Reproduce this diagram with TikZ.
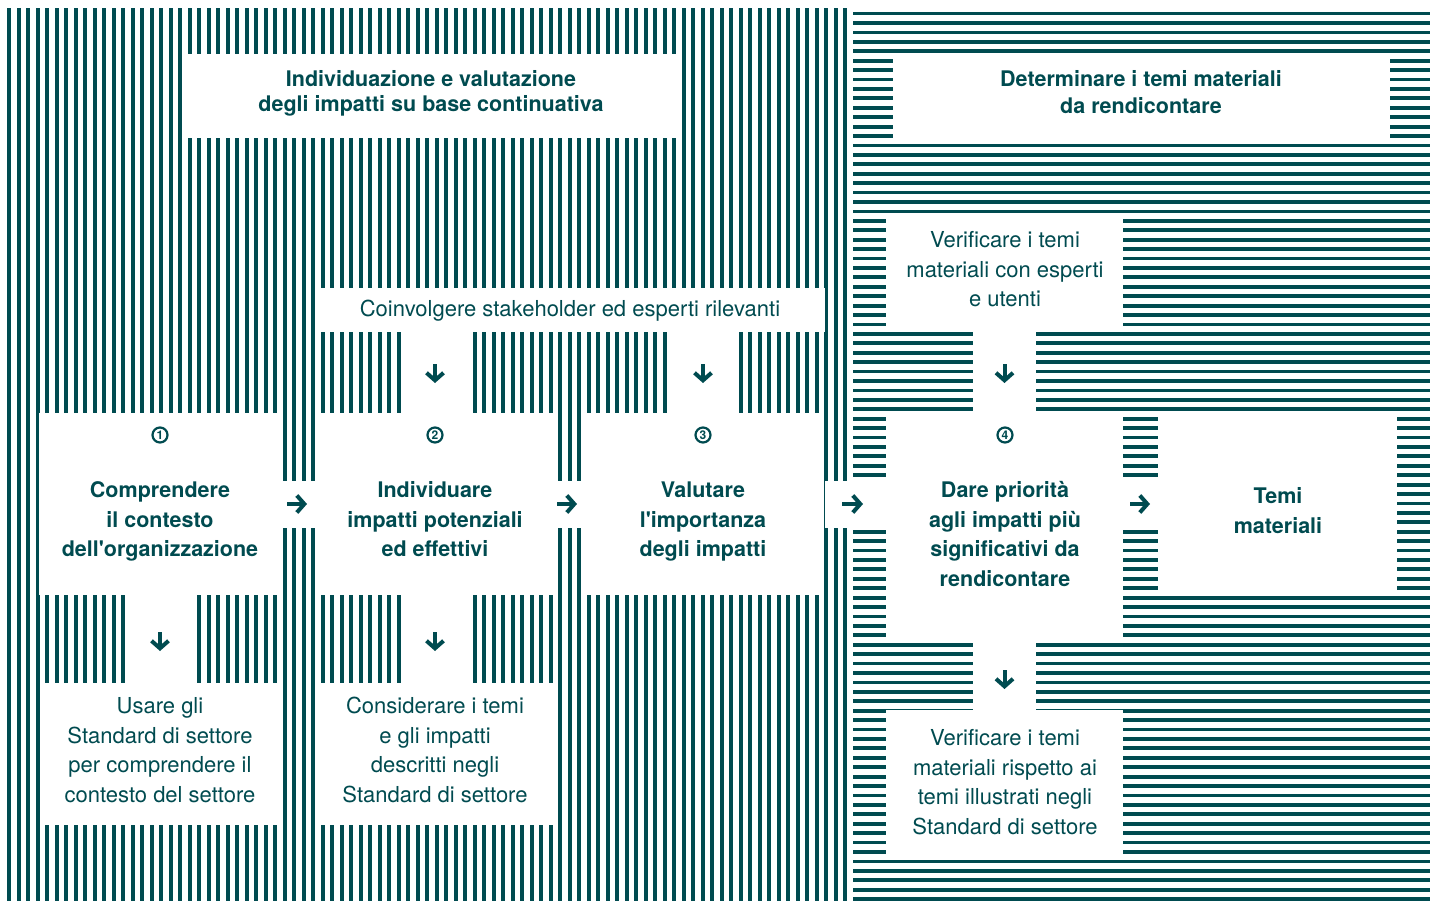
\documentclass[tikz,border=0pt]{standalone}
\usepackage{fontspec}
\setmainfont{TeX Gyre Heros}[Ligatures=TeXOff]
\usetikzlibrary{arrows.meta}
\definecolor{gteal}{RGB}{0,75,80}
\begin{document}
\begin{tikzpicture}[x=1pt,y=-1pt,
  stripe/.style={fill=gteal},
  wbox/.style={fill=white, draw=none, inner sep=0pt, outer sep=0pt},
  hd/.style={text=gteal, font=\bfseries\fontsize{21.5}{29.5}\selectfont, align=center, inner sep=0pt},
  ttl/.style={text=gteal, font=\bfseries\fontsize{21.5}{25}\selectfont, align=center, inner sep=0pt},
  bd/.style={text=gteal, font=\fontsize{22}{29.5}\selectfont, align=center, inner sep=0pt},
  num/.style={circle, draw=gteal, line width=2.2pt, inner sep=0pt, minimum size=15pt, text=gteal, font=\bfseries\fontsize{12}{12}\selectfont},
  arr/.style={draw=gteal, line width=4pt, -{Straight Barb[length=7.5pt,width=17pt,line width=4pt]}}
]
\useasboundingbox (0,0) rectangle (1440,901);
\fill[white] (0,0) rectangle (1440,901);
% stripes
\foreach \i in {0,...,88} \fill[stripe] (7+9.5*\i,8) rectangle ++(4,893);
\foreach \i in {0,...,94} \fill[stripe] (853,11.7+9.42*\i) rectangle ++(577,3.8);
% gaps
\fill[white] (402,332) rectangle (468,413);
\fill[white] (668,332) rectangle (735,413);
\fill[white] (282,481) rectangle (318,528);
\fill[white] (556,481) rectangle (583,528);
\fill[white] (825,481) rectangle (886,528);
\fill[white] (125,595) rectangle (192,683);
\fill[white] (402,595) rectangle (468,683);
\fill[white] (973,330) rectangle (1036,413);
\fill[white] (973,640) rectangle (1036,710);
\fill[white] (1123,481) rectangle (1158,528);
% boxes
\node[wbox, minimum width=496pt, minimum height=84pt] (lt) at (432,96) {};
\node[wbox, minimum width=507pt, minimum height=44pt] (cv) at (571.5,310) {};
\node[wbox, minimum width=242pt, minimum height=182pt] (b1) at (160,504) {};
\node[wbox, minimum width=238pt, minimum height=182pt] (b2) at (435,504) {};
\node[wbox, minimum width=242pt, minimum height=182pt] (b3) at (703,504) {};
\node[wbox, minimum width=240pt, minimum height=142pt] (us) at (160,754) {};
\node[wbox, minimum width=238pt, minimum height=142pt] (cs) at (435,754) {};
\node[wbox, minimum width=497pt, minimum height=81pt] (rt) at (1141.5,97.5) {};
\node[wbox, minimum width=237pt, minimum height=114pt] (v1) at (1004.5,273) {};
\node[wbox, minimum width=237pt, minimum height=227pt] (b4) at (1004.5,526.5) {};
\node[wbox, minimum width=237pt, minimum height=146pt] (v2) at (1004.5,783) {};
\node[wbox, minimum width=239pt, minimum height=182pt] (tm) at (1277.5,504) {};
% texts
\node[ttl] (ltt) at (431,93) {Individuazione e valutazione\\degli impatti su base continuativa};
\node[ttl, font=\bfseries\fontsize{21.5}{27}\selectfont] (rtt) at (1141,92.5) {Determinare i temi materiali\\da rendicontare};
\node[bd] (cvt) at (570,311) {Coinvolgere stakeholder ed esperti rilevanti};
\node[num] (n1) at (160,435) {1};
\node[num] (n2) at (435,435) {2};
\node[num] (n3) at (703,435) {3};
\node[num] (n4) at (1005,435) {4};
\node[hd] (t1) at (160,521.5) {Comprendere\\il contesto\\dell'organizzazione};
\node[hd] (t2) at (435,519.5) {Individuare\\impatti potenziali\\ed effettivi};
\node[hd] (t3) at (703,522) {Valutare\\l'importanza\\degli impatti};
\node[hd] (t4) at (1005,534) {Dare priorità\\agli impatti più\\significativi da\\rendicontare};
\node[hd] (tmt) at (1278,510.5) {Temi\\materiali};
\node[bd] (ust) at (160,750) {Usare gli\\Standard di settore\\per comprendere il\\contesto del settore};
\node[bd] (cst) at (435,750) {Considerare i temi\\e gli impatti\\descritti negli\\Standard di settore};
\node[bd] (v1t) at (1005,269.5) {Verificare i temi\\materiali con esperti\\e utenti};
\node[bd] (v2t) at (1005,782) {Verificare i temi\\materiali rispetto ai\\temi illustrati negli\\Standard di settore};
% arrows
\draw[arr, shorten <=6pt, shorten >=9pt] (b1.east) -- (b2.west);
\draw[arr, shorten <=3pt, shorten >=5pt] (b2.east) -- (b3.west);
\draw[arr, shorten <=18pt, shorten >=23pt] (b3.east) -- (b3.east -| b4.west);
\draw[arr, shorten <=7pt, shorten >=8pt] (b4.east |- tm.west) -- (tm.west);
\draw[arr, shorten <=32pt, shorten >=30pt] (cv.south -| b2.north) -- (b2.north);
\draw[arr, shorten <=32pt, shorten >=30pt] (cv.south -| b3.north) -- (b3.north);
\draw[arr, shorten <=34pt, shorten >=30pt] (v1.south) -- (b4.north);
\draw[arr, shorten <=37pt, shorten >=32pt] (b1.south) -- (us.north);
\draw[arr, shorten <=37pt, shorten >=32pt] (b2.south) -- (cs.north);
\draw[arr, shorten <=30pt, shorten >=21pt] (b4.south) -- (v2.north);
\end{tikzpicture}
\end{document}
